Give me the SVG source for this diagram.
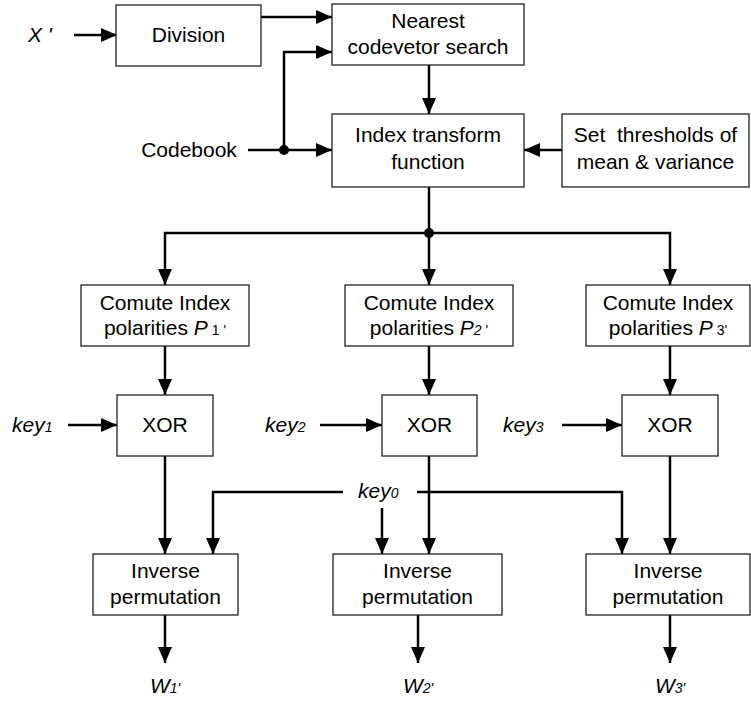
<svg xmlns="http://www.w3.org/2000/svg" width="751" height="701" viewBox="0 0 751 701">
<defs>
<marker id="ah" markerUnits="userSpaceOnUse" markerWidth="17" markerHeight="15" refX="16" refY="7" orient="auto">
<path d="M0,0 L16,7 L0,14 z" fill="#000"/>
</marker>
<style>
.box{fill:#fff;stroke:#222;stroke-width:1.3}
.t{font-family:"Liberation Sans",Arial,sans-serif;font-size:21px;fill:#000;text-anchor:middle}
.i{font-family:"Liberation Sans",Arial,sans-serif;font-size:21px;font-style:italic;fill:#000}
.s{font-size:14px}
.c{fill:none;stroke:#000;stroke-width:2.5}
.a{marker-end:url(#ah)}
</style>
</defs>
<rect width="751" height="701" fill="#fff"/>
<g id="connectors">
<line class="c a" x1="74" y1="35" x2="117" y2="35"/>
<line class="c a" x1="261" y1="17" x2="332" y2="17"/>
<line class="c a" x1="248" y1="150" x2="332" y2="150"/>
<path class="c a" d="M284,150 V52 H332"/>
<circle cx="284" cy="150" r="5" fill="#000"/>
<line class="c a" x1="429" y1="65" x2="429" y2="114"/>
<line class="c a" x1="562" y1="150" x2="524" y2="150"/>
<line class="c" x1="429" y1="187" x2="429" y2="233"/>
<path class="c a" d="M429,233 H165 V285"/>
<line class="c a" x1="429" y1="233" x2="429" y2="285"/>
<path class="c a" d="M429,233 H670 V285"/>
<circle cx="429" cy="233" r="5" fill="#000"/>
<line class="c a" x1="165" y1="346" x2="165" y2="395"/>
<line class="c a" x1="429" y1="346" x2="429" y2="395"/>
<line class="c a" x1="670" y1="346" x2="670" y2="395"/>
<line class="c a" x1="68" y1="425" x2="117" y2="425"/>
<line class="c a" x1="320" y1="425" x2="382" y2="425"/>
<line class="c a" x1="562" y1="425" x2="622" y2="425"/>
<line class="c a" x1="165" y1="456" x2="165" y2="554"/>
<line class="c a" x1="429" y1="456" x2="429" y2="554"/>
<line class="c a" x1="670" y1="456" x2="670" y2="554"/>
<path class="c a" d="M343,492 H213 V554"/>
<path class="c a" d="M417,492 H622 V554"/>
<line class="c a" x1="382" y1="508" x2="382" y2="554"/>
<line class="c a" x1="165" y1="615" x2="165" y2="663"/>
<line class="c a" x1="418" y1="615" x2="418" y2="663"/>
<line class="c a" x1="670" y1="615" x2="670" y2="663"/>
</g>
<g id="labels">
<text class="i" x="28" y="42">X '</text>
<text class="t" x="189" y="157">Codebook</text>
<text class="i" x="12" y="432">key<tspan class="s">1</tspan></text>
<text class="i" x="265" y="432">key<tspan class="s">2</tspan></text>
<text class="i" x="503" y="432">key<tspan class="s">3</tspan></text>
<text class="i" x="358" y="498">key<tspan class="s">0</tspan></text>
<text class="i" x="150" y="693">W<tspan class="s">1'</tspan></text>
<text class="i" x="403" y="693">W<tspan class="s">2'</tspan></text>
<text class="i" x="655" y="693">W<tspan class="s">3'</tspan></text>
</g>
<g id="division"><rect class="box" x="116" y="5" width="145" height="61"/><text class="t" x="188.5" y="42">Division</text></g>
<g id="nearest"><rect class="box" x="332" y="4" width="192" height="61"/><text class="t" x="428" y="28">Nearest</text><text class="t" x="428" y="54">codevetor search</text></g>
<g id="index"><rect class="box" x="332" y="114" width="192" height="73"/><text class="t" x="428" y="142">Index transform</text><text class="t" x="428" y="169">function</text></g>
<g id="thresholds"><rect class="box" x="562" y="114" width="187" height="73"/><text class="t" x="655.5" y="142" xml:space="preserve">Set  thresholds of</text><text class="t" x="655.5" y="169">mean &amp; variance</text></g>
<g id="comute1"><rect class="box" x="81" y="285" width="168" height="61"/><text class="t" x="165" y="310">Comute Index</text><text class="t" x="165" y="335">polarities <tspan font-style="italic">P</tspan><tspan class="s"> 1 '</tspan></text></g>
<g id="comute2"><rect class="box" x="345" y="285" width="168" height="61"/><text class="t" x="429" y="310">Comute Index</text><text class="t" x="429" y="335">polarities <tspan font-style="italic">P</tspan><tspan class="s" font-style="italic">2</tspan><tspan class="s"> '</tspan></text></g>
<g id="comute3"><rect class="box" x="586" y="285" width="164" height="61"/><text class="t" x="668" y="310">Comute Index</text><text class="t" x="668" y="335">polarities <tspan font-style="italic">P</tspan><tspan class="s"> 3'</tspan></text></g>
<g id="xor1"><rect class="box" x="117" y="395" width="96" height="61"/><text class="t" x="165" y="432">XOR</text></g>
<g id="xor2"><rect class="box" x="382" y="395" width="95" height="61"/><text class="t" x="429.5" y="432">XOR</text></g>
<g id="xor3"><rect class="box" x="622" y="395" width="96" height="61"/><text class="t" x="670" y="432">XOR</text></g>
<g id="inverse1"><rect class="box" x="93" y="554" width="145" height="61"/><text class="t" x="165.5" y="578">Inverse</text><text class="t" x="165.5" y="604">permutation</text></g>
<g id="inverse2"><rect class="box" x="333" y="554" width="169" height="61"/><text class="t" x="417.5" y="578">Inverse</text><text class="t" x="417.5" y="604">permutation</text></g>
<g id="inverse3"><rect class="box" x="586" y="554" width="164" height="61"/><text class="t" x="668" y="578">Inverse</text><text class="t" x="668" y="604">permutation</text></g>
</svg>
